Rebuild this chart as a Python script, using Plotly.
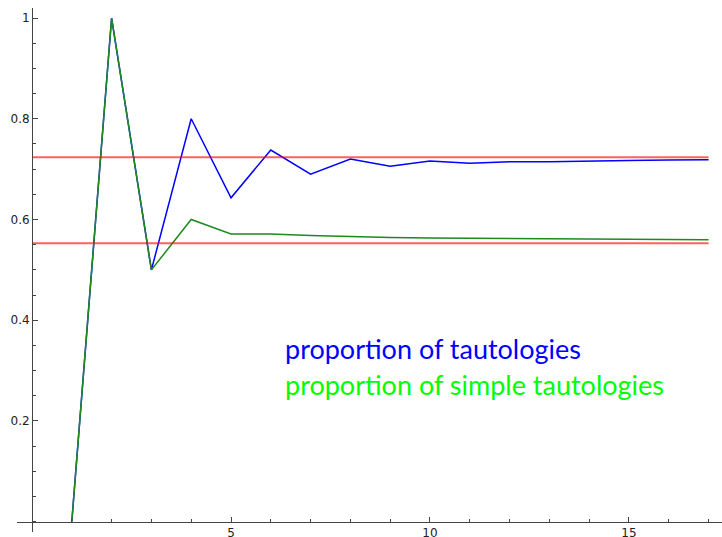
import plotly.graph_objects as go

# Formula size n and the proportion of tautologies among formulas of that size
sizes = list(range(1, 18))
taut_share = [0.0, 1.0, 0.5, 0.8, 0.643, 0.738, 0.690, 0.720, 0.7055,
              0.716, 0.7115, 0.7148, 0.7145, 0.7165, 0.7172, 0.7180, 0.7185]
simple_share = [0.0, 1.0, 0.5, 0.6, 0.5714, 0.5714, 0.568, 0.566, 0.5645,
                0.5635, 0.5628, 0.5620, 0.5614, 0.5609, 0.5605, 0.5601, 0.5598]

# Asymptotic limits of the two proportions
limits = [0.7236, 0.5528]
limit_span = [0, 17]

x_ticks = [5, 10, 15]
y_ticks = [0.2, 0.4, 0.6, 0.8, 1.0]
y_tick_text = ["0.2", "0.4", "0.6", "0.8", "1"]

x_range = [-0.377, 17.337]
y_range = [-0.0204, 1.0199]

fig = go.Figure()
fig.add_trace(go.Scatter(x=sizes, y=taut_share, mode="lines",
                         line=dict(color="#0000ff", width=1.5)))
fig.add_trace(go.Scatter(x=sizes, y=simple_share, mode="lines",
                         line=dict(color="#1e8a1e", width=1.5)))
for lim in limits:
    fig.add_trace(go.Scatter(x=limit_span, y=[lim, lim], mode="lines",
                             line=dict(color="rgba(255,0,0,0.62)", width=2)))

fig.add_annotation(x=6.3, y=0.343, xref="x", yref="y", xanchor="left",
                   yanchor="middle", showarrow=False,
                   text="proportion of tautologies",
                   font=dict(family="Lato", size=27, color="#0000ff"))
fig.add_annotation(x=6.3, y=0.273, xref="x", yref="y", xanchor="left",
                   yanchor="middle", showarrow=False,
                   text="proportion of simple tautologies",
                   font=dict(family="Lato", size=27, color="#00ff00"))

tick_font = dict(family="DejaVu Sans", size=12, color="#222222")
axis_color = "#444444"

fig.update_layout(
    width=722, height=537,
    margin=dict(l=17, r=0, t=8, b=5),
    paper_bgcolor="white", plot_bgcolor="white",
    showlegend=False,
    xaxis=dict(
        range=x_range, showgrid=False, zeroline=False,
        anchor="free",
        position=(0 - y_range[0]) / (y_range[1] - y_range[0]),
        showline=True, linecolor=axis_color, linewidth=1,
        tickmode="array", tickvals=x_ticks,
        ticks="inside", ticklen=5, tickwidth=1, tickcolor=axis_color,
        tickfont=tick_font, automargin=False,
        minor=dict(ticks="inside", ticklen=3, tickwidth=1,
                   tickcolor=axis_color, tickmode="linear",
                   tick0=0, dtick=1, showgrid=False),
    ),
    yaxis=dict(
        range=y_range, showgrid=False, zeroline=False,
        anchor="free",
        position=(0 - x_range[0]) / (x_range[1] - x_range[0]),
        showline=True, linecolor=axis_color, linewidth=1,
        tickmode="array", tickvals=y_ticks, ticktext=y_tick_text,
        ticks="inside", ticklen=5, tickwidth=1, tickcolor=axis_color,
        tickfont=tick_font, automargin=False,
        minor=dict(ticks="inside", ticklen=3, tickwidth=1,
                   tickcolor=axis_color, tickmode="linear",
                   tick0=0, dtick=0.05, showgrid=False),
    ),
)

fig.write_html("out.html")
